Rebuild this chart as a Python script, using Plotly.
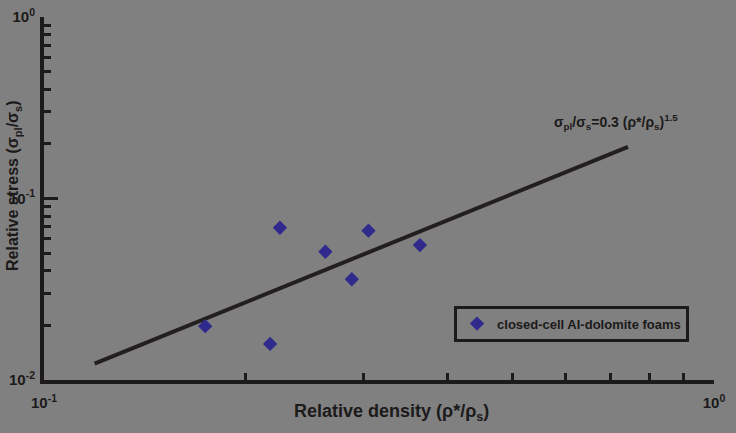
import plotly.graph_objects as go

# Data
density = [0.174, 0.225, 0.263, 0.305, 0.364, 0.288, 0.2175]
stress = [0.0198, 0.069, 0.0509, 0.0665, 0.0554, 0.0359, 0.0158]

# Fit line endpoints (sigma_pl/sigma_s = 0.3 (rho*/rho_s)^1.5)
fit_x = [0.119, 0.744]
fit_y = [0.0123, 0.1925]

x_major = [0.1, 1]
x_major_text = ["<b>10<sup>-1</sup></b>", "<b>10<sup>0</sup></b>"]
x_minor = [0.2, 0.3, 0.4, 0.5, 0.6, 0.7, 0.8, 0.9]
y_major = [0.01, 0.1, 1]
y_major_text = ["<b>10<sup>-2</sup></b>", "<b>10<sup>-1</sup></b>", "<b>10<sup>0</sup></b>"]
y_minor = [0.02, 0.03, 0.04, 0.05, 0.06, 0.07, 0.08, 0.09,
           0.2, 0.3, 0.4, 0.5, 0.6, 0.7, 0.8, 0.9]

BG = "#808080"
INK = "#1c1a1a"
FONT = "Liberation Sans, Arial"

fig = go.Figure()
fig.add_trace(go.Scatter(
    x=fit_x, y=fit_y, mode="lines",
    line=dict(color="#231f1f", width=4),
    showlegend=False, hoverinfo="skip"))
fig.add_trace(go.Scatter(
    x=density, y=stress, mode="markers",
    name="<b>closed-cell Al-dolomite foams</b>",
    marker=dict(symbol="diamond", size=11, color="#2f2a8c",
                line=dict(width=0))))

axis_common = dict(
    type="log", showgrid=False, zeroline=False, showline=True,
    linecolor=INK, linewidth=4, ticks="inside", ticklen=14,
    tickwidth=3, tickcolor=INK, tickmode="array",
    tickfont=dict(family=FONT, size=15, color=INK),
    mirror=False, automargin=False,
)

fig.update_layout(
    width=736, height=433,
    margin=dict(l=44, r=22, t=17, b=53),
    paper_bgcolor=BG, plot_bgcolor=BG,
    font=dict(family=FONT, color=INK),
    xaxis=dict(
        **axis_common,
        range=[-1, 0],
        tickvals=x_major, ticktext=x_major_text,
        ticklabelstandoff=6,
        minor=dict(tickmode="array", tickvals=x_minor, ticks="inside",
                   ticklen=7, tickwidth=3, tickcolor=INK),
    ),
    yaxis=dict(
        **axis_common,
        range=[-2, 0],
        tickvals=y_major, ticktext=y_major_text,
        ticklabelstandoff=2,
        minor=dict(tickmode="array", tickvals=y_minor, ticks="inside",
                   ticklen=7, tickwidth=3, tickcolor=INK),
    ),
    legend=dict(
        x=0.612, y=0.205, xanchor="left", yanchor="top",
        bgcolor=BG, bordercolor=INK, borderwidth=3,
        itemwidth=30,
        font=dict(family=FONT, size=13, color=INK),
    ),
    annotations=[
        dict(
            x=0.758, y=0.71, xref="paper", yref="paper",
            xanchor="left", yanchor="middle", showarrow=False,
            text="<b>σ<sub>pl</sub>/σ<sub>s</sub>=0.3 (ρ*/ρ<sub>s</sub>)<sup>1.5</sup></b>",
            font=dict(family=FONT, size=14, color=INK),
        ),
        dict(
            x=0.518, y=-0.09, xref="paper", yref="paper",
            xanchor="center", yanchor="middle", showarrow=False,
            text="<b>Relative density (ρ*/ρ<sub>s</sub>)</b>",
            font=dict(family=FONT, size=18, color=INK),
        ),
        dict(
            x=-0.0445, y=0.535, xref="paper", yref="paper",
            xanchor="center", yanchor="middle", showarrow=False,
            textangle=-90,
            text="<b>Relative stress (σ<sub>pl</sub>/σ<sub>s</sub>)</b>",
            font=dict(family=FONT, size=16, color=INK),
        ),
    ],
)

fig.write_html("out.html")
